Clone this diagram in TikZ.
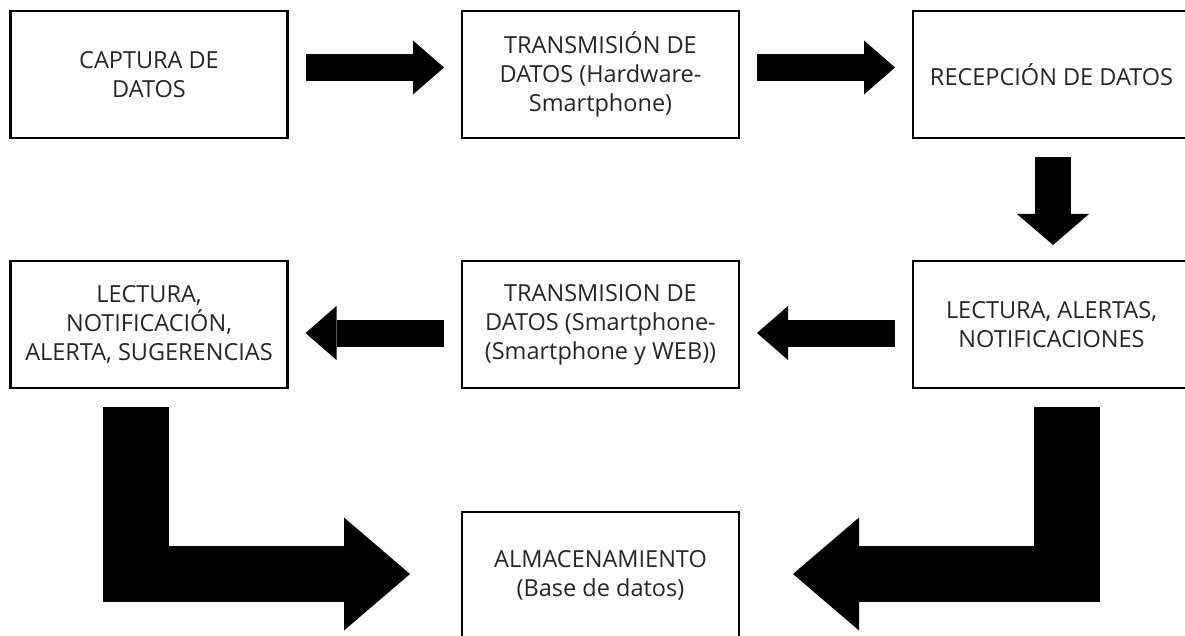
\documentclass[tikz,border=0pt]{standalone}
\usepackage{fontspec}
\setmainfont{Open Sans}
\usepackage{tikz}
\usetikzlibrary{arrows.meta}
\tikzset{
    stage/.style = {draw=black, line width=2.2pt, fill=white, align=center, inner sep=0pt, outer sep=0pt,
                    minimum width=277pt, minimum height=127pt, text=black!85, font=\fontsize{23.5}{29}\selectfont},
    flow/.style = {line width=27pt, -{Triangle[length=31pt, width=54pt, line width=0pt]}},
    dflow/.style = {line width=36pt, -{Triangle[length=31pt, width=72pt, line width=0pt]}},
    stem/.style = {line width=66pt},
    bigflow/.style = {line width=56pt, -{Triangle[length=66pt, width=113pt, line width=0pt]}}
}

\begin{document}
\begin{tikzpicture}[x=1pt, y=-1pt]
    \useasboundingbox (0,0) rectangle (1185,636);
    \fill[white] (0,0) rectangle (1185,636);
    \clip (0,0) rectangle (1185,636);

    % first row
    \node[stage] (captura) at (149,74.5) {CAPTURA DE\\DATOS};
    \node[stage] (envio) at (600.5,74.5) {TRANSMISIÓN DE\\DATOS (Hardware-\\Smartphone)};
    \node[stage] (recepcion) at (1051.5,74.5) {RECEPCIÓN DE DATOS};

    % second row
    \node[stage] (sugerencias) at (149,324.5) {LECTURA,\\NOTIFICACIÓN,\\ALERTA, SUGERENCIAS};
    \node[stage] (reenvio) at (600.5,324.5) {TRANSMISION DE\\DATOS (Smartphone-\\(Smartphone y WEB))};
    \node[stage] (alertas) at (1051.5,324.5) {LECTURA, ALERTAS,\\NOTIFICACIONES};

    % storage
    \node[stage] (almacen) at (600.5,575.5) {ALMACENAMIENTO\\(Base de datos)};

    \coordinate (codoL) at (sugerencias.south |- almacen.west);
    \coordinate (codoR) at (alertas.south |- almacen.east);

    \draw[flow] ([shift={(18pt,7pt)}]captura.east) -- ([shift={(-18pt,7pt)}]envio.west);
    \draw[flow] ([shift={(18pt,7pt)}]envio.east) -- ([shift={(-18pt,7pt)}]recepcion.west);
    \draw[dflow] ([shift={(1.5pt,-19pt)}]recepcion.south) -- ([shift={(1.5pt,16pt)}]alertas.north);
    \draw[flow] ([shift={(-18pt,-8.5pt)}]alertas.west) -- ([shift={(18pt,-8.5pt)}]reenvio.east);
    \draw[flow] ([shift={(-18pt,-8.5pt)}]reenvio.west) -- ([shift={(18pt,-8.5pt)}]sugerencias.east);

    % the two bent arrows into the database
    \draw[stem] ([shift={(-13pt,-19pt)}]sugerencias.south) -- ([shift={(-13pt,-26.5pt)}]codoL);
    \draw[bigflow] ([shift={(-46pt,1.5pt)}]codoL) -- ([shift={(-52pt,1.5pt)}]almacen.west);
    \draw[stem] ([shift={(15.5pt,-19pt)}]alertas.south) -- ([shift={(15.5pt,-26.5pt)}]codoR);
    \draw[bigflow] ([shift={(48.5pt,1.5pt)}]codoR) -- ([shift={(54pt,1.5pt)}]almacen.east);
\end{tikzpicture}
\end{document}
